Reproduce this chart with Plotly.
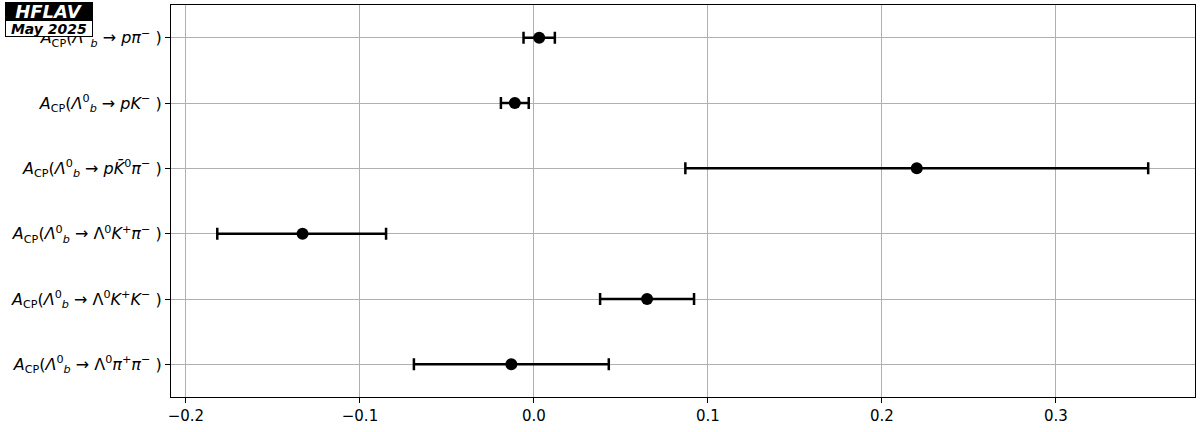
import plotly.graph_objects as go

labels = [
    "<i>A</i><sub>CP</sub>(<i>Λ</i><sup>0</sup><sub><i>b</i></sub> → <i>pπ</i><sup>−</sup> )",
    "<i>A</i><sub>CP</sub>(<i>Λ</i><sup>0</sup><sub><i>b</i></sub> → <i>pK</i><sup>−</sup> )",
    "<i>A</i><sub>CP</sub>(<i>Λ</i><sup>0</sup><sub><i>b</i></sub> → <i>pK̄</i><sup>0</sup><i>π</i><sup>−</sup> )",
    "<i>A</i><sub>CP</sub>(<i>Λ</i><sup>0</sup><sub><i>b</i></sub> → Λ<sup>0</sup><i>K</i><sup>+</sup><i>π</i><sup>−</sup> )",
    "<i>A</i><sub>CP</sub>(<i>Λ</i><sup>0</sup><sub><i>b</i></sub> → Λ<sup>0</sup><i>K</i><sup>+</sup><i>K</i><sup>−</sup> )",
    "<i>A</i><sub>CP</sub>(<i>Λ</i><sup>0</sup><sub><i>b</i></sub> → Λ<sup>0</sup><i>π</i><sup>+</sup><i>π</i><sup>−</sup> )",
]
values = [0.003, -0.011, 0.220, -0.133, 0.065, -0.013]
err_plus = [0.009, 0.008, 0.133, 0.048, 0.027, 0.056]
err_minus = [0.009, 0.008, 0.133, 0.049, 0.027, 0.056]
xticks = [-0.2, -0.1, 0.0, 0.1, 0.2, 0.3]
xticktext = ["−0.2", "−0.1", "0.0", "0.1", "0.2", "0.3"]

ypos = list(range(len(labels)))

fig = go.Figure()
fig.add_trace(go.Scatter(
    x=values, y=ypos, mode="markers",
    marker=dict(color="black", size=12),
    error_x=dict(type="data", array=err_plus, arrayminus=err_minus,
                 symmetric=False, color="black", thickness=2.5, width=6),
    showlegend=False,
))

fig.update_layout(
    width=1200, height=432,
    margin=dict(l=171, r=5, t=5, b=35),
    paper_bgcolor="white", plot_bgcolor="white",
    font=dict(family="DejaVu Sans", size=15, color="black"),
    xaxis=dict(range=[-0.2086, 0.3799], tickvals=xticks, ticktext=xticktext,
               showgrid=True, gridcolor="#b0b0b0", gridwidth=1,
               showline=True, linecolor="black", linewidth=1.2, mirror=True,
               ticks="outside", ticklen=5, tickcolor="black", zeroline=False,
               tickfont=dict(size=15)),
    yaxis=dict(range=[5.5, -0.5], tickvals=ypos, ticktext=labels,
               showgrid=True, gridcolor="#b0b0b0", gridwidth=1,
               showline=True, linecolor="black", linewidth=1.2, mirror=True,
               ticks="outside", ticklen=5, tickcolor="black", zeroline=False,
               tickfont=dict(size=16)),
)

# HFLAV logo
fig.add_annotation(xref="paper", yref="paper", x=-0.1623, y=1.0, xanchor="left", yanchor="top",
                   text="<b><i>HFLAV</i></b>", showarrow=False,
                   font=dict(family="DejaVu Sans", size=18, color="white"),
                   bgcolor="black", bordercolor="black", borderwidth=1, borderpad=0,
                   width=86, height=17, yshift=3)
fig.add_annotation(xref="paper", yref="paper", x=-0.1623, y=1.0, xanchor="left", yanchor="top",
                   text="<b><i>May 2025</i></b>", showarrow=False,
                   font=dict(family="DejaVu Sans", size=14, color="black"),
                   bgcolor="white", bordercolor="black", borderwidth=1, borderpad=0,
                   width=86, height=15, yshift=-15)

fig.write_html("out.html", config={"displayModeBar": False},
               post_script="document.body.style.margin='0';")
